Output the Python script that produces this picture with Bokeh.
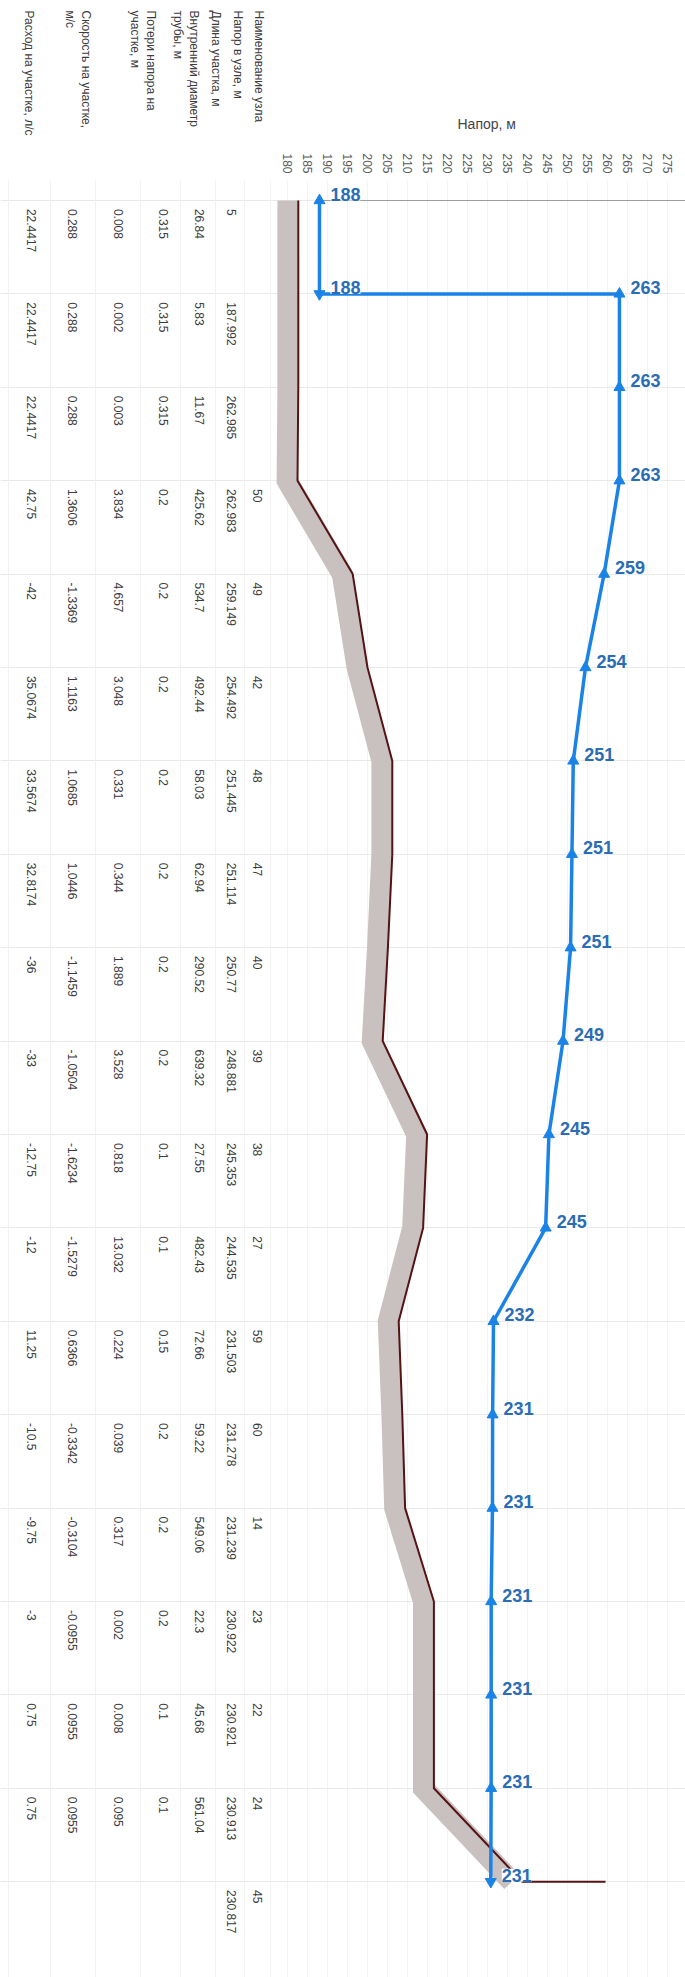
import math
from bokeh.plotting import figure
from bokeh.models import ColumnDataSource, LabelSet, Range1d, FixedTicker, Grid
from bokeh.embed import file_html
from bokeh.resources import INLINE
from bokeh.core.properties import value

# ---------------- data ----------------
row_labels = ["Наименование узла", "Напор в узле, м", "Длина участка, м",
              "Внутренний диаметр\nтрубы, м", "Потери напора на\nучастке, м",
              "Скорость на участке,\nм/с", "Расход на участке, л/с"]

node_index = list(range(19))
col_name = ["", "", "", "50", "49", "42", "48", "47", "40", "39", "38", "27",
            "59", "60", "14", "23", "22", "24", "45"]
col_head = ["5", "187.992", "262.985", "262.983", "259.149", "254.492", "251.445",
            "251.114", "250.77", "248.881", "245.353", "244.535", "231.503",
            "231.278", "231.239", "230.922", "230.921", "230.913", "230.817"]
col_length = ["26.84", "5.83", "11.67", "425.62", "534.7", "492.44", "58.03", "62.94",
              "290.52", "639.32", "27.55", "482.43", "72.66", "59.22", "549.06",
              "22.3", "45.68", "561.04", ""]
col_diam = ["0.315", "0.315", "0.315", "0.2", "0.2", "0.2", "0.2", "0.2", "0.2", "0.2",
            "0.1", "0.1", "0.15", "0.2", "0.2", "0.2", "0.1", "0.1", ""]
col_loss = ["0.008", "0.002", "0.003", "3.834", "4.657", "3.048", "0.331", "0.344",
            "1.889", "3.528", "0.818", "13.032", "0.224", "0.039", "0.317", "0.002",
            "0.008", "0.095", ""]
col_vel = ["0.288", "0.288", "0.288", "1.3606", "-1.3369", "1.1163", "1.0685", "1.0446",
           "-1.1459", "-1.0504", "-1.6234", "-1.5279", "0.6366", "-0.3342", "-0.3104",
           "-0.0955", "0.0955", "0.0955", ""]
col_flow = ["22.4417", "22.4417", "22.4417", "42.75", "-42", "35.0674", "33.5674",
            "32.8174", "-36", "-33", "-12.75", "-12", "11.25", "-10.5", "-9.75", "-3",
            "0.75", "0.75", ""]

# piezometric (head) line
pz_node = [0, 1, 1, 2, 3, 4, 5, 6, 7, 8, 9, 10, 11, 12, 13, 14, 15, 16, 17, 18]
pz_head = [188.0, 187.992, 262.987, 262.985, 262.983, 259.149, 254.492, 251.445,
           251.114, 250.77, 248.881, 245.353, 244.535, 231.503, 231.278, 231.239,
           230.922, 230.921, 230.913, 230.817]
pz_label = ["188", "188", "263", "263", "263", "259", "254", "251", "251", "251",
            "249", "245", "245", "232", "231", "231", "231", "231", "231", "231"]

# ground level profile
ground_node = [0, 1, 2, 3, 4, 5, 6, 7, 8, 9, 10, 11, 12, 13, 14, 15, 16, 17, 18, 18]
ground_level = [182.7, 182.7, 182.7, 182.5, 196.3, 200.0, 206.2, 206.2, 205.1, 203.8,
                214.9, 213.9, 207.8, 208.7, 209.4, 216.6, 216.6, 216.6, 238.7, 259.5]

tick_values = [180, 185, 190, 195, 200, 205, 210, 215, 220, 225, 230, 235, 240,
               245, 250, 255, 260, 265, 270, 275]

# ---------------- layout constants ----------------
FONT = "Liberation Sans"
W, H = 685, 1977
NODE_PX = 93.4          # px between nodes
NODE0 = 200.0           # page y of node 0
FRAME_TOP = 180         # page y of plot frame top
CHART_LEFT = 277        # page x where head axis area starts
HEAD_MIN, HEAD_MAX = 177.5, 279.5
PX_PER_M = (W - CHART_LEFT) / (HEAD_MAX - HEAD_MIN)

y_bot = (H - NODE0) / NODE_PX
y_top = (FRAME_TOP - NODE0) / NODE_PX
x_start = HEAD_MIN - CHART_LEFT / PX_PER_M

BLUE = "#1b83e6"
LABEL_BLUE = "#2a6db5"
TXT = "#3c3c3c"

p = figure(width=W, height=H, x_range=Range1d(x_start, HEAD_MAX),
           y_range=Range1d(y_bot, y_top), x_axis_location="above",
           y_axis_location=None, output_backend="svg", toolbar_location=None,
           min_border_left=0, min_border_right=0, min_border_bottom=0,
           min_border_top=FRAME_TOP, outline_line_color=None)
p.extra_x_ranges = {"tbl": Range1d(0, W)}
p.grid.visible = False

# title over the head-axis area
p.title.text = "Напор, м"
p.title.align = "left"
p.title.offset = 457
p.title.standoff = 38
p.title.text_font = FONT
p.title.text_font_size = "14px"
p.title.text_font_style = "normal"
p.title.text_color = "#444444"

# grids
p.add_layout(Grid(dimension=0, ticker=FixedTicker(ticks=tick_values),
                  grid_line_color="#f3f3f3", grid_line_width=1))
p.add_layout(Grid(dimension=1, ticker=FixedTicker(ticks=node_index),
                  grid_line_color="#e9e9e9", grid_line_width=1))
p.add_layout(Grid(dimension=0, x_range_name="tbl",
                  ticker=FixedTicker(ticks=[8, 50, 95, 140, 180, 215, 244, 270]),
                  grid_line_color="#f2f2f2", grid_line_width=1))

# axis
ax = p.xaxis[0]
ax.ticker = FixedTicker(ticks=tick_values)
ax.major_label_orientation = -math.pi / 2
ax.major_label_text_font = FONT
ax.major_label_text_font_size = "12px"
ax.major_label_text_color = "#5a5a5a"
ax.major_label_standoff = 7
ax.major_tick_out = 0
ax.major_tick_in = 0
ax.axis_line_color = None
ax.major_tick_line_color = None
ax.minor_tick_line_color = None

# ---------------- table ----------------
col_x = [257, 231, 199, 163, 118, 72, 31]
label_x = [265, 244, 222, 200, 157, 92, 35]
columns = [col_name, col_head, col_length, col_diam, col_loss, col_vel, col_flow]
text_y = [i + 0.09 for i in node_index]

for cx, col in zip(col_x, columns):
    p.text(x=[cx] * len(col), y=text_y, text=col, angle=-math.pi / 2,
           text_align="left", text_baseline="middle", x_range_name="tbl",
           text_font=value(FONT), text_font_size="12px", text_color=TXT)

hdr = p.text(x=label_x, y=[(10 - NODE0) / NODE_PX] * len(row_labels), text=row_labels,
             angle=-math.pi / 2, text_align="left", text_baseline="top",
             text_line_height=1.1, x_range_name="tbl",
             text_font=value(FONT), text_font_size="12px", text_color=TXT)
hdr.level = "overlay"

# ---------------- chart ----------------
# frame line at the first node
p.segment(x0=[pz_head[0]], y0=[node_index[0]], x1=[HEAD_MAX], y1=[node_index[0]],
          line_color="#9c9c9c", line_width=1)

# ground band and ground line
band_shift = 2.6
p.line(x=[g - band_shift for g in ground_level[:19]], y=ground_node[:19],
       line_width=21, line_color="#c9c0c0", line_join="miter")
p.line(x=ground_level, y=ground_node, line_width=2, line_color="#571313")

# head line
p.line(x=pz_head, y=pz_node, line_width=3.5, line_color=BLUE)
markers = ["triangle"] * len(pz_head)
markers[1] = "inverted_triangle"
markers[-1] = "inverted_triangle"
src = ColumnDataSource(dict(h=pz_head, n=pz_node, lbl=pz_label, m=markers))
sc = p.scatter(x="h", y="n", marker="m", size=11, color=BLUE, source=src)
sc.level = "overlay"

labels = LabelSet(x="h", y="n", text="lbl", source=src, x_offset=11, y_offset=0,
                  text_baseline="alphabetic", text_align="left",
                  text_font=value(FONT), text_font_size="18px", text_font_style="bold",
                  text_color=LABEL_BLUE, background_fill_color="white")
p.add_layout(labels)

open("out.html", "w").write(file_html(p, INLINE))
